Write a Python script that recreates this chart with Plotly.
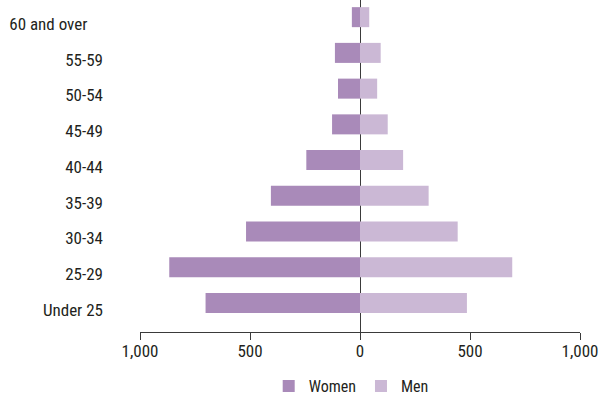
import plotly.graph_objects as go

categories = ["Under 25", "25-29", "30-34", "35-39", "40-44", "45-49", "50-54", "55-59", "60 and over"]
women = [702, 867, 518, 405, 244, 127, 100, 114, 37]
men = [486, 692, 444, 312, 196, 126, 78, 94, 42]
tick_vals = [-1000, -500, 0, 500, 1000]
tick_text = ["1,000", "500", "0", "500", "1,000"]
# category labels as printed (the top one sits a little left of the others)
label_text = categories[:-1] + ["60 and over\u00a0\u00a0\u00a0\u00a0"]

FONT = "Roboto Condensed, Liberation Sans Narrow, Arial Narrow, sans-serif"
BAR_W = 0.56
BAR_OFF = -0.09  # bars sit slightly above their labels

fig = go.Figure()
fig.add_trace(go.Bar(y=categories, x=[-v for v in women], orientation="h", name="Women",
                     width=BAR_W, offset=BAR_OFF,
                     marker=dict(color="#a98ab9", line=dict(width=0)),
                     customdata=women, hovertemplate="%{y}: %{customdata}<extra>Women</extra>"))
fig.add_trace(go.Bar(y=categories, x=men, orientation="h", name="Men",
                     width=BAR_W, offset=BAR_OFF,
                     marker=dict(color="#cbb8d5", line=dict(width=0))))

fig.update_layout(
    width=609, height=396,
    margin=dict(l=140, r=29, t=0, b=64, autoexpand=False),
    barmode="overlay",
    plot_bgcolor="white", paper_bgcolor="white",
    font=dict(family=FONT, size=17, color="#231f20", weight=400),
    showlegend=True,
    legend=dict(orientation="h", x=0.48, xanchor="center", y=-0.163, yanchor="middle",
                font=dict(size=16), itemwidth=30, traceorder="normal"),
    xaxis=dict(range=[-1000, 1000], tickvals=tick_vals, ticktext=tick_text,
               showgrid=False, zeroline=True, zerolinecolor="#3a3a3a", zerolinewidth=1,
               showline=True, linecolor="#3a3a3a", linewidth=1, automargin=False,
               ticks="outside", ticklen=7, tickcolor="#3a3a3a", fixedrange=True,
               ticklabelstandoff=-3),
    yaxis=dict(type="category", categoryorder="array", categoryarray=categories,
               tickmode="array", tickvals=categories, ticktext=label_text,
               range=[-0.62, 8.67], showgrid=False, zeroline=False, showline=False,
               ticks="", ticklabelstandoff=36, automargin=False, fixedrange=True),
)

fig.write_html("out.html", post_script="document.body.style.margin='0';",
               config={"displayModeBar": False})
